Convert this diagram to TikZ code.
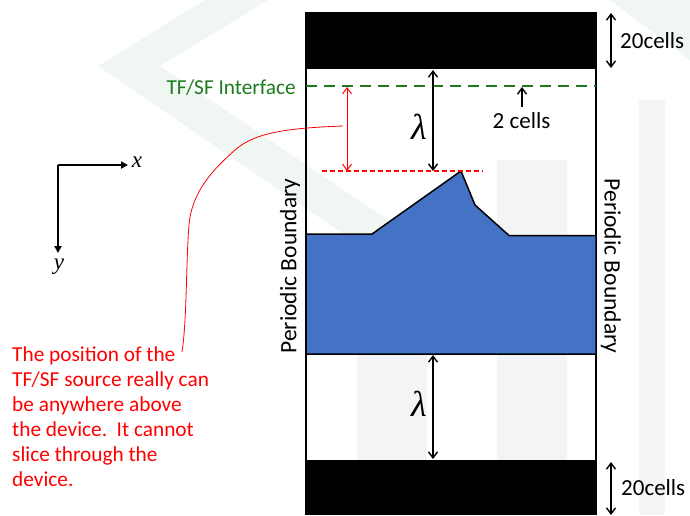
\documentclass[tikz,border=0pt]{standalone}
\usepackage{fontspec}
\setmainfont{Carlito}
\newfontfamily\grk{Liberation Serif}
\usetikzlibrary{arrows.meta}
\definecolor{devblue}{HTML}{4472C4}
\definecolor{ifgreen}{HTML}{1E7A1E}
\definecolor{wmgreen}{HTML}{F0F6F1}
\definecolor{wmgrey}{HTML}{F3F4F6}
\definecolor{notered}{HTML}{FF0000}
\tikzset{
  dimarrow/.style={line width=1.4pt, {Straight Barb[length=6pt,width=9pt]}-{Straight Barb[length=6pt,width=9pt]}},
  uparrow/.style={line width=1.4pt, -{Straight Barb[length=6pt,width=9pt]}},
  redarrow/.style={notered, line width=1pt, {Straight Barb[length=6pt,width=9pt]}-{Straight Barb[length=6pt,width=9pt]}},
  axisarrow/.style={line width=1.8pt, -{Triangle[length=7pt,width=7pt]}},
  band/.style={fill=black},
  border/.style={line width=2pt},
  lbl/.style={inner sep=0pt, font=\fontsize{23}{28}\selectfont},
  lam/.style={inner sep=0pt, font=\grk\itshape\fontsize{36}{40}\selectfont},
  axl/.style={inner sep=0pt, font=\grk\itshape\fontsize{23}{26}\selectfont},
}
\begin{document}
\begin{tikzpicture}[x=1pt,y=-1pt]
\useasboundingbox (0,0) rectangle (690,515);
% faint watermark
\fill[wmgreen] (98,66) -- (205,0) -- (268,0) -- (160,66) -- (440,255) -- (440,300) -- cycle;
\fill[wmgreen] (610,0) -- (690,0) -- (690,60) -- cycle;
\fill[wmgrey] (357,290) rectangle (427,460);
\fill[wmgrey] (497,160) rectangle (567,460);
\fill[wmgrey] (639,100) rectangle (665,515);
% bands and borders
\fill[band] (306,12) rectangle (596,69);
\fill[band] (306,460) rectangle (596,515);
\draw[border] (306,12) -- (306,515);
\draw[border] (596,12) -- (596,515);
% device
\filldraw[fill=devblue, draw=black, line width=1.5pt]
  (306,234) -- (372,234) -- (461,171) -- (475,205) -- (509,235.5) -- (596,235.5)
  -- (596,354) -- (306,354) -- cycle;
% TF/SF interface
\coordinate (ifl) at (306,86);
\coordinate (ifr) at (596,86);
\draw[ifgreen, line width=2.6pt, dash pattern=on 11pt off 7pt] (ifl) -- (ifr);
\node[anchor=base east, inner sep=0pt, text=ifgreen, font=\fontsize{21.3}{24}\selectfont] (iflabel) at (296,94) {TF/SF Interface};
% red dashed reference line
\coordinate (rdl) at (322,171);
\coordinate (rdr) at (483,171);
\draw[draw=notered, line width=1.2pt, dash pattern=on 5pt off 3pt] (rdl) -- (rdr);
% red arrow
\coordinate (ra1) at (347,87);
\coordinate (ra2) at (347,171);
\draw[redarrow] (ra1) -- (ra2);
% lambda arrows
\coordinate (la1) at (433,70);
\coordinate (la2) at (433,171);
\draw[dimarrow] (la1) -- (la2);
\node[lam] (lam1) at (419,127) {λ};
\coordinate (lb1) at (433,355);
\coordinate (lb2) at (433,459);
\draw[dimarrow] (lb1) -- (lb2);
\node[lam] (lam2) at (419,404) {λ};
% 2 cells
\coordinate (tc1) at (522,107);
\coordinate (tc2) at (522,87);
\draw[uparrow] (tc1) -- (tc2);
\node[lbl, anchor=base] (twocells) at (521.5,128) {2 cells};
% 20 cells
\coordinate (c1) at (611,13);
\coordinate (c2) at (611,68);
\draw[dimarrow] (c1) -- (c2);
\node[lbl, anchor=base west] (cells1) at (620,48) {20cells};
\coordinate (c3) at (611,462);
\coordinate (c4) at (611,515);
\draw[dimarrow] (c3) -- (c4);
\node[lbl, anchor=base west] (cells2) at (621,495) {20cells};
% periodic boundary
\node[inner sep=0pt, rotate=90, font=\fontsize{23.5}{28}\selectfont] (pbl) at (290,266) {Periodic Boundary};
\node[inner sep=0pt, rotate=-90, font=\fontsize{23.5}{28}\selectfont] (pbr) at (611,266) {Periodic Boundary};
% axes
\coordinate (o) at (58,165);
\coordinate (ox) at (128,165);
\coordinate (oy) at (58,253);
\draw[axisarrow] (o) -- (ox);
\draw[axisarrow] (o) -- (oy);
\node[axl] (xl) at (137,162) {x};
\node[axl] (yl) at (59,267) {y};
% red note
\node[anchor=base west, inner sep=0pt, align=left, text=notered, font=\fontsize{21.3}{25}\selectfont] (note) at (12,486)
 {The position of the\\TF/SF source really can\\be anywhere above\\the device.\ \ It cannot\\slice through the\\device.};
\draw[notered, line width=0.8pt] (343,126) .. controls (290,128) and (255,132) .. (235,150)
  .. controls (215,168) and (192,190) .. (189,225)
  .. controls (186,260) and (187,320) .. (182,352);
\end{tikzpicture}
\end{document}
